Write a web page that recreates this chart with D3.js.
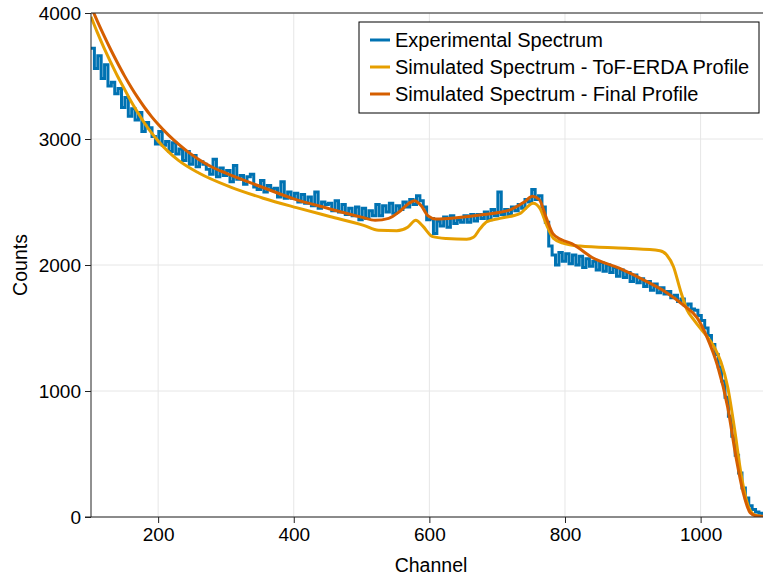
<!DOCTYPE html>
<html>
<head>
<meta charset="utf-8">
<script src="https://cdn.jsdelivr.net/npm/d3@7"></script>
<style>
body { margin: 0; background: #fff; }
text { font-family: "Liberation Sans", Arial, sans-serif; fill: #000; }
</style>
</head>
<body>
<div id="chart"></div>
<script>
// Experimental spectrum, 5-channel bins starting at channel 101
var expStart = 101;
var expStep = 5;
var expCounts = [
  3720, 3560, 3660, 3480, 3590, 3420, 3450, 3360, 3400, 3250,
  3330, 3180, 3240, 3150, 3210, 3060, 3130, 3090, 3020, 2960,
  3060, 2950, 2980, 2900, 2970, 2880, 2920, 2830, 2900, 2800,
  2870, 2780, 2820, 2800, 2760, 2720, 2840, 2700, 2770, 2710,
  2750, 2660, 2790, 2680, 2710, 2640, 2700, 2720, 2620, 2600,
  2670, 2580, 2630, 2600, 2610, 2540, 2660, 2530, 2580, 2530,
  2570, 2500, 2560, 2490, 2540, 2470, 2580, 2450, 2500, 2480,
  2490, 2430, 2510, 2420, 2480, 2400, 2450, 2390, 2460, 2360,
  2450, 2370, 2430, 2390, 2480, 2390, 2470, 2420, 2490, 2410,
  2470, 2440, 2500, 2460, 2520, 2480, 2550, 2510, 2460, 2360,
  2370, 2250, 2350, 2310, 2380, 2300, 2390, 2330, 2360, 2340,
  2390, 2340, 2400, 2350, 2400, 2370, 2420, 2360, 2440, 2390,
  2580, 2400, 2440, 2400, 2460, 2430, 2480, 2450, 2520, 2500,
  2600, 2520, 2550, 2460, 2340, 2150, 2080, 2000, 2100, 2030,
  2090, 2010, 2080, 2000, 2070, 1980, 2050, 1990, 2030, 1960,
  2020, 1950, 2000, 1940, 1980, 1910, 1960, 1900, 1940, 1870,
  1920, 1860, 1890, 1830, 1870, 1800, 1850, 1780, 1820, 1770,
  1790, 1740, 1760, 1710, 1730, 1680, 1690, 1650, 1640, 1600,
  1560, 1500, 1440, 1370, 1290, 1190, 1080, 950, 800, 640,
  490, 350, 230, 150, 90, 60, 40, 30, 25
];

// Simulated spectrum - ToF-ERDA profile
var tofChannels = [101, 110, 120, 130, 140, 150, 160, 170, 180, 190, 200, 215, 230, 260, 306, 355, 404, 453, 503, 525,
  552, 568, 580, 590, 605, 625, 655, 665, 675, 685, 704, 734, 753, 763, 773, 783, 798, 822, 890, 940,
  950, 960, 970, 980, 990, 1000, 1010, 1020, 1030, 1040, 1050, 1060, 1070, 1080, 1092];
var tofCounts = [3970, 3850, 3725, 3610, 3500, 3400, 3300, 3210, 3125, 3050, 2985, 2900, 2830, 2730, 2620, 2530, 2455, 2385, 2315, 2275,
  2272, 2300, 2355, 2310, 2225, 2210, 2204, 2220, 2290, 2344, 2370, 2410, 2490, 2450, 2317, 2211, 2172, 2150, 2132, 2113,
  2080, 1986, 1802, 1643, 1565, 1495, 1430, 1350, 1230, 1030, 700, 330, 90, 15, 3];

// Simulated spectrum - final profile
var finChannels = [101, 110, 120, 130, 140, 150, 160, 170, 180, 190, 200, 215, 230, 245, 260, 280, 300, 350, 400, 450,
  500, 520, 540, 555, 570, 578, 588, 598, 610, 640, 680, 720, 740, 752, 762, 772, 782, 795, 810, 840,
  880, 920, 950, 975, 995, 1010, 1025, 1040, 1052, 1063, 1073, 1083, 1092];
var finCounts = [4050, 3940, 3822, 3710, 3605, 3505, 3413, 3328, 3250, 3180, 3117, 3033, 2959, 2894, 2838, 2776, 2729, 2625, 2525, 2450,
  2380, 2355, 2370, 2420, 2490, 2510, 2470, 2390, 2365, 2375, 2400, 2440, 2500, 2545, 2520, 2380, 2250, 2200, 2170, 2060,
  1975, 1870, 1780, 1680, 1580, 1420, 1200, 870, 480, 190, 35, 8, 5];

var xTicks = [200, 400, 600, 800, 1000];
var yTicks = [0, 1000, 2000, 3000, 4000];
var seriesNames = ["Experimental Spectrum", "Simulated Spectrum - ToF-ERDA Profile", "Simulated Spectrum - Final Profile"];
var seriesColors = ["#0072B2", "#E69F00", "#D55E00"];

var svgWidth = 763;
var svgHeight = 581;
var margin = { top: 13, right: 0, bottom: 64, left: 91 };
var width = svgWidth - margin.left - margin.right;
var height = svgHeight - margin.top - margin.bottom;

var svg = d3.select("#chart")
  .append("svg")
  .attr("width", svgWidth)
  .attr("height", svgHeight);

var chartGroup = svg.append("g")
  .attr("transform", `translate(${margin.left}, ${margin.top})`);

var xScale = d3.scaleLinear().domain([101, 1092]).range([0, width]);
var yScale = d3.scaleLinear().domain([0, 4000]).range([height, 0]);

// grid
chartGroup.append("g").selectAll("line")
  .data(xTicks).enter().append("line")
  .attr("x1", d => xScale(d)).attr("x2", d => xScale(d))
  .attr("y1", 0).attr("y2", height)
  .attr("stroke", "#e6e6e6").attr("stroke-width", 1);
chartGroup.append("g").selectAll("line")
  .data(yTicks).enter().append("line")
  .attr("x1", 0).attr("x2", width)
  .attr("y1", d => yScale(d)).attr("y2", d => yScale(d))
  .attr("stroke", "#e6e6e6").attr("stroke-width", 1);

svg.append("clipPath").attr("id", "clip")
  .append("rect").attr("width", width).attr("height", height);

var plot = chartGroup.append("g").attr("clip-path", "url(#clip)");

var expData = expCounts.map((c, i) => [expStart + i * expStep, c]);
expData.push([expStart + expCounts.length * expStep, expCounts[expCounts.length - 1]]);

var stairLine = d3.line()
  .x(d => xScale(d[0]))
  .y(d => yScale(d[1]))
  .curve(d3.curveStepAfter);

var smoothLine = d3.line()
  .x(d => xScale(d[0]))
  .y(d => yScale(d[1]))
  .curve(d3.curveMonotoneX);

plot.append("path")
  .datum(expData)
  .attr("d", stairLine)
  .attr("fill", "none")
  .attr("stroke", seriesColors[0])
  .attr("stroke-width", 3);

plot.append("path")
  .datum(tofChannels.map((c, i) => [c, tofCounts[i]]))
  .attr("d", smoothLine)
  .attr("fill", "none")
  .attr("stroke", seriesColors[1])
  .attr("stroke-width", 3);

plot.append("path")
  .datum(finChannels.map((c, i) => [c, finCounts[i]]))
  .attr("d", smoothLine)
  .attr("fill", "none")
  .attr("stroke", seriesColors[2])
  .attr("stroke-width", 3);

// axes
var bottomAxis = d3.axisBottom(xScale).tickValues(xTicks).tickSize(6).tickPadding(5).tickFormat(d3.format("d"));
var leftAxis = d3.axisLeft(yScale).tickValues(yTicks).tickSize(6).tickPadding(4).tickFormat(d3.format("d"));

var xAxis = chartGroup.append("g")
  .attr("transform", `translate(0, ${height})`)
  .call(bottomAxis);
var yAxis = chartGroup.append("g").call(leftAxis);

[xAxis, yAxis].forEach(function(ax) {
  ax.select(".domain").remove();
  ax.selectAll("line").attr("stroke", "#222");
  ax.selectAll("text").attr("font-size", "19px").attr("font-family", "'Liberation Sans', Arial, sans-serif");
});

// spines
chartGroup.append("line").attr("x1", 0).attr("x2", 0).attr("y1", 0).attr("y2", height).attr("stroke", "#222");
chartGroup.append("line").attr("x1", -6).attr("x2", width).attr("y1", height).attr("y2", height).attr("stroke", "#222");
chartGroup.append("line").attr("x1", 0).attr("x2", width).attr("y1", 0).attr("y2", 0).attr("stroke", "#222");

// axis labels
svg.append("text")
  .attr("x", 431)
  .attr("y", 572)
  .attr("text-anchor", "middle")
  .attr("font-size", "19.5px")
  .text("Channel");

svg.append("text")
  .attr("transform", `translate(27, ${margin.top + height / 2}) rotate(-90)`)
  .attr("text-anchor", "middle")
  .attr("font-size", "19.5px")
  .text("Counts");

// legend
var legend = svg.append("g").attr("transform", "translate(359, 22)");
legend.append("rect")
  .attr("width", 400).attr("height", 91)
  .attr("fill", "#fff").attr("stroke", "#000").attr("stroke-width", 1);

var rows = legend.selectAll("g.row")
  .data(seriesNames).enter().append("g")
  .attr("transform", (d, i) => `translate(0, ${18 + i * 27})`);
rows.append("line")
  .attr("x1", 11).attr("x2", 31).attr("y1", 0).attr("y2", 0)
  .attr("stroke", (d, i) => seriesColors[i]).attr("stroke-width", 3);
rows.append("text")
  .attr("x", 36).attr("y", 0)
  .attr("dy", "0.35em")
  .attr("font-size", "20px")
  .text(d => d);
</script>
</body>
</html>
